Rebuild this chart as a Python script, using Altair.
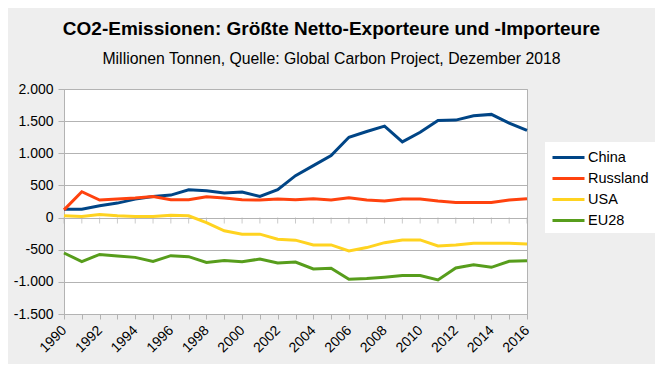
import altair as alt
import pandas as pd

years = list(range(1990, 2017))
china = [131, 131, 183, 225, 287, 328, 350, 433, 417, 381, 397, 328, 433, 652,
         808, 964, 1250, 1339, 1422, 1178, 1328, 1511, 1516, 1584, 1605, 1469, 1355]
russland = [120, 402, 272, 287, 303, 328, 277, 277, 323, 303, 277, 272, 287, 277,
            292, 272, 308, 272, 256, 287, 287, 256, 235, 235, 235, 272, 292]
usa = [27, 15, 47, 27, 15, 15, 37, 27, -78, -206, -258, -258, -336, -351,
       -425, -425, -518, -467, -390, -348, -348, -441, -425, -400, -400, -400, -410]
eu28 = [-551, -686, -573, -598, -619, -681, -593, -608, -697, -666, -686, -645, -707, -692,
        -800, -789, -960, -949, -929, -903, -903, -970, -784, -733, -774, -681, -671]

series_names = ["China", "Russland", "USA", "EU28"]
series_colors = ["#004586", "#ff420e", "#ffd320", "#579d1c"]
y_ticks = [-1500, -1000, -500, 0, 500, 1000, 1500, 2000]

rows = []
for name, vals in zip(series_names, [china, russland, usa, eu28]):
    for yr, v in zip(years, vals):
        rows.append({"Jahr": yr, "Wert": v, "Land": name})
df = pd.DataFrame(rows)
ticks_df = pd.DataFrame({"Jahr": years, "Null": [0] * len(years)})

x_scale = alt.Scale(domain=[1990, 2016], nice=False, zero=False)
y_scale = alt.Scale(domain=[-1500, 2000], nice=False)

x_axis = alt.Axis(values=years, labelAngle=-45, grid=False, labelOverlap=False,
                  labelExpr="datum.value % 2 == 0 ? datum.value + '' : ''",
                  tickSize=5, labelPadding=9, labelAlign="right", labelBaseline="middle")
y_axis = alt.Axis(values=y_ticks, tickSize=6, labelPadding=5, grid=True, labelOverlap=False,
                  labelExpr="(datum.value < 0 ? '-' : '') + replace(format(abs(datum.value), ','), ',', '.')")

zero_ticks = alt.Chart(ticks_df).mark_tick(orient="vertical", size=6, thickness=1,
                                            color="#b3b3b3", yOffset=3).encode(
    x=alt.X("Jahr:Q", scale=x_scale, title=None, axis=x_axis),
    y=alt.Y("Null:Q", scale=y_scale, title=None, axis=y_axis),
)

lines = alt.Chart(df).mark_line(strokeWidth=3).encode(
    x=alt.X("Jahr:Q", scale=x_scale, title=None, axis=x_axis),
    y=alt.Y("Wert:Q", scale=y_scale, title=None, axis=y_axis),
    color=alt.Color("Land:N", sort=series_names,
                    scale=alt.Scale(domain=series_names, range=series_colors),
                    legend=alt.Legend(title=None, orient="none", legendX=481, legendY=53,
                                      symbolType="M-1,0H3", symbolSize=256,
                                      symbolStrokeWidth=3, fillColor="white",
                                      padding=6, labelFontSize=14.5, labelOffset=18,
                                      rowPadding=5)),
)

chart = alt.layer(zero_ticks, lines).properties(
    width=463, height=225,
    autosize=alt.AutoSizeParams(type="none"),
    padding={"left": 56, "top": 81, "right": 128, "bottom": 50},
    background="#eeeeee",
    title=alt.TitleParams(
        text="CO2-Emissionen: Größte Netto-Exporteure und -Importeure",
        subtitle="Millionen Tonnen, Quelle: Global Carbon Project, Dezember 2018",
        anchor="middle", dx=36, offset=15, fontSize=19, fontWeight="bold",
        subtitleFontSize=15.8, subtitlePadding=13, color="black", subtitleColor="black",
        font="Liberation Sans", subtitleFont="Liberation Sans",
    ),
).configure_view(
    fill="white", stroke="#b3b3b3"
).configure_axis(
    labelFont="Liberation Sans", labelFontSize=14, labelColor="black",
    domainColor="#b3b3b3", tickColor="#b3b3b3", gridColor="#b3b3b3",
).configure_legend(
    labelFont="Liberation Sans", labelColor="black"
)

chart.save("out.html", embed_options={"renderer": "svg", "actions": False})
